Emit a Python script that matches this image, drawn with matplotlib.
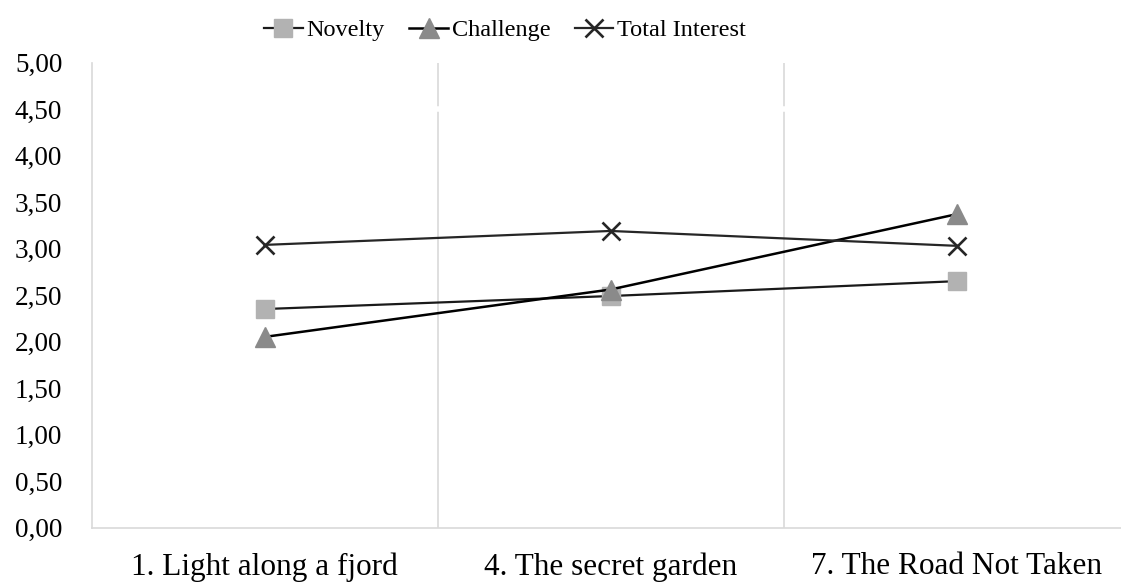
import numpy as np
import matplotlib.pyplot as plt
from matplotlib.ticker import FuncFormatter, FixedLocator

plt.rcParams['font.family'] = ['Liberation Serif', 'DejaVu Serif']

poems     = ['1. Light along a fjord', '4. The secret garden', '7. The Road Not Taken']
novelty   = [2.35, 2.49, 2.65]
challenge = [2.05, 2.56, 3.37]
interest  = [3.04, 3.19, 3.03]

fig = plt.figure(figsize=(11.21, 5.83), dpi=100)
ax = fig.add_axes([91.5/1121, 55.5/583, 1038/1121, 464.8/583])

x = np.arange(len(poems))
ax.plot(x, novelty, color='#1a1a1a', lw=1.6, marker='s', ms=13,
        mfc='#b2b2b2', mec='#b2b2b2', label='Novelty', zorder=3)
ax.plot(x, challenge, color='#000000', lw=1.8, marker='^', ms=14,
        mfc='#8a8a8a', mec='#8a8a8a', label='Challenge', zorder=3)
ax.plot(x, interest, color='#262626', lw=1.6, marker='x', ms=12.5, mew=1.9,
        mec='#262626', label='Total Interest', zorder=3)

ax.set_xlim(-0.5, 2.5)
ax.set_ylim(0, 5)
ax.set_yticks(np.arange(0, 5.01, 0.5))
ax.yaxis.set_major_formatter(FuncFormatter(lambda v, p: f'{v:.2f}'.replace('.', ',')))
ax.set_xticks(x)
ax.set_xticklabels(poems)
ax.xaxis.set_minor_locator(FixedLocator([0.5, 1.5]))
ax.grid(True, which='minor', axis='x', color='#d9d9d9', lw=1.2)
# small white break in the separators at 4,50
ax.axhline(4.5, color='white', lw=4, zorder=1.8)
ax.tick_params(which='both', length=0)
ax.tick_params(axis='y', labelsize=19.5, pad=21)
ax.tick_params(axis='x', labelsize=22.5, pad=18)

for s in ['top', 'right']:
    ax.spines[s].set_visible(False)
for s in ['left', 'bottom']:
    ax.spines[s].set_color('#d9d9d9')
    ax.spines[s].set_linewidth(1.2)

# legend row sits above the plot, centred a little left of the axes middle
ax.legend(loc='center', bbox_to_anchor=(505/1121, 1 - 30/583),
          bbox_transform=fig.transFigure, ncol=3,
          frameon=False, fontsize=17.5, handlelength=1.6, handletextpad=0.15,
          columnspacing=1.0, borderaxespad=0, borderpad=0)

fig.savefig('out.png', dpi=100)
